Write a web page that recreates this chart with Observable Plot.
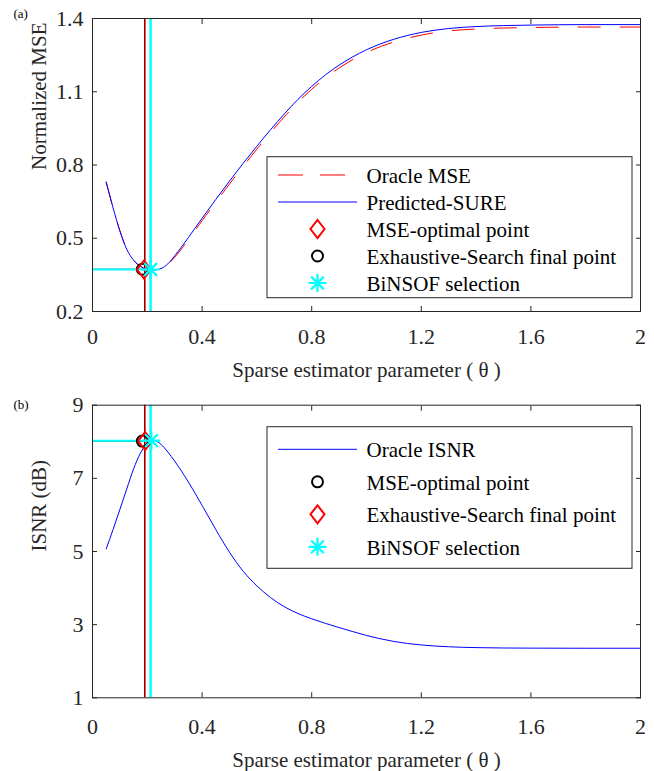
<!DOCTYPE html>
<html><head><meta charset="utf-8">
<script src="https://cdn.jsdelivr.net/npm/d3@7"></script>
<script src="https://cdn.jsdelivr.net/npm/@observablehq/plot@0.6"></script>
<style>
body{margin:0;background:#fff;}
#wrap{position:relative;width:654px;height:771px;font-family:"Liberation Serif",Tinos,"Times New Roman","Nimbus Roman","DejaVu Serif",serif;background:#fff;}
#wrap > svg{position:absolute;left:0;}
#wrap text{font-family:"Liberation Serif",Tinos,"Times New Roman","Nimbus Roman","DejaVu Serif",serif;}
</style></head><body><div id="wrap"></div>
<script>
// ---------- data ----------
const thetaMSE = [0.05,0.075,0.1,0.125,0.15,0.175,0.2,0.225,0.25,0.275,0.3,0.35,0.4,0.45,0.5,0.55,0.6,0.65,0.7,0.75,0.8,0.85,0.9,0.95,1.0,1.1,1.2,1.3,1.4,1.5,1.6,1.8,2.0];
const predictedSURE = [0.73,0.625,0.53,0.455,0.41,0.385,0.373,0.37,0.376,0.395,0.428,0.503,0.582,0.659,0.734,0.807,0.877,0.945,1.009,1.069,1.122,1.169,1.209,1.243,1.272,1.315,1.343,1.359,1.367,1.371,1.373,1.375,1.375];
const oracleMSE = [0.73,0.625,0.53,0.455,0.41,0.385,0.373,0.37,0.376,0.393,0.422,0.494,0.572,0.648,0.722,0.795,0.865,0.933,0.997,1.057,1.11,1.157,1.197,1.232,1.261,1.304,1.332,1.349,1.357,1.361,1.363,1.365,1.365];
const thetaISNR = [0.05,0.075,0.1,0.125,0.15,0.175,0.2,0.225,0.25,0.275,0.3,0.35,0.4,0.45,0.5,0.55,0.6,0.65,0.7,0.75,0.8,0.85,0.9,0.95,1.0,1.05,1.1,1.15,1.2,1.25,1.3,1.4,1.5,1.6,1.8,2.0];
const oracleISNR = [5.07,5.6,6.15,6.71,7.26,7.69,7.95,8.03,7.93,7.72,7.47,6.9,6.26,5.6,4.98,4.46,4.06,3.74,3.49,3.305,3.16,3.035,2.92,2.81,2.705,2.615,2.54,2.485,2.445,2.415,2.395,2.372,2.362,2.358,2.355,2.355];
// selected points
const thetaOpt = 0.192, thetaES = 0.19, thetaBin = 0.212;
const mseOpt = 0.372, mseES = 0.373, mseBin = 0.372;
const isnrOpt = 8.02, isnrES = 8.02, isnrBin = 8.03;
// ticks / domains
const xTicks = [0,0.4,0.8,1.2,1.6,2];
const xDomain = [0,2];
const mseTicks = [0.2,0.5,0.8,1.1,1.4];
const mseDomain = [0.2,1.4];
const isnrTicks = [1,3,5,7,9];
const isnrDomain = [1,9];
const legendTop = ["Oracle MSE","Predicted-SURE","MSE-optimal point","Exhaustive-Search final point","BiNSOF selection"];
const legendBottom = ["Oracle ISNR","MSE-optimal point","Exhaustive-Search final point","BiNSOF selection"];

// ---------- styling ----------
const fontFam = '"Liberation Serif",Tinos,"Times New Roman","Nimbus Roman","DejaVu Serif",serif';
const axisColor = "#262626";
const RED = "#ff0000", BLUE = "#0000ff", CYAN = "#00ffff";

const diamondTall = {draw(ctx, size){const r=Math.sqrt(size/Math.PI);const w=r*0.78;ctx.moveTo(0,-r);ctx.lineTo(w,0);ctx.lineTo(0,r);ctx.lineTo(-w,0);ctx.closePath();}};
const star8 = {draw(ctx, size){const r=Math.sqrt(size/Math.PI);const d=r*Math.SQRT1_2;ctx.moveTo(-r,0);ctx.lineTo(r,0);ctx.moveTo(0,-r);ctx.lineTo(0,r);ctx.moveTo(-d,-d);ctx.lineTo(d,d);ctx.moveTo(-d,d);ctx.lineTo(d,-d);}};

function frameMarks(yTicks, xPad){
  return [
    Plot.axisX(xTicks,{anchor:"bottom",tickSize:-5,tickPadding:5+xPad,tickFormat:d=>String(d),fontSize:22,stroke:axisColor,fill:axisColor,label:null}),
    Plot.axisX(xTicks,{anchor:"top",tickSize:-5,tickFormat:()=>"",stroke:axisColor,label:null}),
    Plot.axisY(yTicks,{anchor:"left",tickSize:-5,tickPadding:14,tickFormat:d=>String(d),fontSize:22,stroke:axisColor,fill:axisColor,label:null}),
    Plot.axisY(yTicks,{anchor:"right",tickSize:-5,tickFormat:()=>"",stroke:axisColor,label:null}),
    Plot.frame({stroke:axisColor,strokeWidth:1})
  ];
}
function italicTheta(svg){
  const t = d3.select(svg).select('g[aria-label="xlabel"] text');
  t.text(null);
  t.append("tspan").text("Sparse estimator parameter ( ");
  t.append("tspan").attr("font-style","italic").text("\u03b8");
  t.append("tspan").text(" )");
}

const msePts = thetaMSE.map((t,i)=>({t, pred:predictedSURE[i], orc:oracleMSE[i]}));
const isnrPts = thetaISNR.map((t,i)=>({t, v:oracleISNR[i]}));

// ---------- panel (a) ----------
const svgA = Plot.plot({
  width:654, height:390, marginTop:18, marginBottom:79, marginLeft:92, marginRight:14,
  style:{fontFamily:fontFam, background:"transparent", color:axisColor, overflow:"visible"},
  x:{domain:xDomain}, y:{domain:mseDomain},
  marks:[
    Plot.line(msePts,{x:"t",y:"orc",stroke:RED,strokeWidth:1,strokeDasharray:"22,20",curve:"monotone-x"}),
    Plot.line(msePts,{x:"t",y:"pred",stroke:BLUE,strokeWidth:1,curve:"monotone-x"}),
    Plot.ruleX([thetaES],{stroke:"black",strokeWidth:1}),
    Plot.ruleX([thetaOpt],{stroke:RED,strokeWidth:1.2}),
    Plot.ruleX([thetaBin],{stroke:CYAN,strokeWidth:2.5}),
    Plot.ruleY([{x:thetaES,y:mseES}],{y:"y",x1:()=>xDomain[0],x2:"x",stroke:"black",strokeWidth:1}),
    Plot.ruleY([{x:thetaOpt,y:mseOpt}],{y:"y",x1:()=>xDomain[0],x2:"x",stroke:RED,strokeWidth:1.2}),
    Plot.ruleY([{x:thetaBin,y:mseBin}],{y:"y",x1:()=>xDomain[0],x2:"x",stroke:CYAN,strokeWidth:2}),
    Plot.dot([{x:thetaES-0.008,y:mseES}],{x:"x",y:"y",symbol:"circle",r:5.5,stroke:"black",strokeWidth:2,fill:"none"}),
    Plot.dot([{x:thetaOpt-0.004,y:mseOpt}],{x:"x",y:"y",symbol:diamondTall,r:9,stroke:RED,strokeWidth:2,fill:"none"}),
    Plot.dot([{x:thetaBin,y:mseBin}],{x:"x",y:"y",symbol:star8,r:9,stroke:CYAN,strokeWidth:2.2,fill:"none"}),
    ...frameMarks(mseTicks, 16.4),
    Plot.text(["Sparse estimator parameter ( \u03b8 )"],{frameAnchor:"bottom",dy:65,lineAnchor:"bottom",fontSize:21,fill:axisColor,ariaLabel:"xlabel"}),
    Plot.text(["Normalized MSE"],{frameAnchor:"left",dx:-47,dy:5,rotate:-90,lineAnchor:"bottom",fontSize:21,fill:axisColor}),
    Plot.text(["(a)"],{frameAnchor:"top-left",dx:-79,dy:-1,lineAnchor:"bottom",textAnchor:"start",fontSize:13,fill:"black"})
  ]
});
svgA.style.top = "0px";
italicTheta(svgA);

// ---------- panel (b) ----------
const svgB = Plot.plot({
  width:654, height:381, marginTop:14.7, marginBottom:73.7, marginLeft:92, marginRight:14,
  style:{fontFamily:fontFam, background:"transparent", color:axisColor, overflow:"visible"},
  x:{domain:xDomain}, y:{domain:isnrDomain},
  marks:[
    Plot.line(isnrPts,{x:"t",y:"v",stroke:BLUE,strokeWidth:1,curve:"monotone-x"}),
    Plot.ruleX([thetaES],{stroke:"black",strokeWidth:1}),
    Plot.ruleX([thetaOpt],{stroke:RED,strokeWidth:1.2}),
    Plot.ruleX([thetaBin],{stroke:CYAN,strokeWidth:2.5}),
    Plot.ruleY([{x:thetaOpt,y:isnrOpt}],{y:"y",x1:()=>xDomain[0],x2:"x",stroke:"black",strokeWidth:1}),
    Plot.ruleY([{x:thetaBin,y:isnrBin}],{y:"y",x1:()=>xDomain[0],x2:"x",stroke:CYAN,strokeWidth:2}),
    Plot.dot([{x:thetaES-0.008,y:isnrOpt}],{x:"x",y:"y",symbol:"circle",r:5.5,stroke:"black",strokeWidth:2,fill:"none"}),
    Plot.dot([{x:thetaOpt,y:isnrES}],{x:"x",y:"y",symbol:diamondTall,r:9,stroke:RED,strokeWidth:2,fill:"none"}),
    Plot.dot([{x:thetaBin+0.003,y:isnrBin}],{x:"x",y:"y",symbol:star8,r:9,stroke:CYAN,strokeWidth:2.2,fill:"none"}),
    ...frameMarks(isnrTicks, 20.1),
    Plot.text(["Sparse estimator parameter ( \u03b8 )"],{frameAnchor:"bottom",dy:68.7,lineAnchor:"bottom",fontSize:21,fill:axisColor,ariaLabel:"xlabel"}),
    Plot.text(["ISNR (dB)"],{frameAnchor:"left",dx:-47,rotate:-90,lineAnchor:"bottom",fontSize:21,fill:axisColor}),
    Plot.text(["(b)"],{frameAnchor:"top-left",dx:-79,dy:3.3,lineAnchor:"bottom",textAnchor:"start",fontSize:13,fill:"black"})
  ]
});
svgB.style.top = "390px";
italicTheta(svgB);

const wrap = document.getElementById("wrap");
wrap.appendChild(svgA);
wrap.appendChild(svgB);

// ---------- legends ----------
function drawLegend(box, rows){
  const s = d3.select(wrap).append("svg")
    .attr("width",654).attr("height",771).style("position","absolute").style("left","0px").style("top","0px");
  s.append("rect").attr("x",box.x0).attr("y",box.y0).attr("width",box.x1-box.x0).attr("height",box.y1-box.y0)
    .attr("fill","white").attr("stroke",axisColor).attr("stroke-width",1);
  rows.forEach((r,i)=>{
    const y = box.first + i*box.step;
    if (r.kind==="dash") s.append("line").attr("x1",278).attr("x2",357).attr("y1",y).attr("y2",y).attr("stroke",RED).attr("stroke-dasharray","25,17");
    else if (r.kind==="line") s.append("line").attr("x1",278).attr("x2",357).attr("y1",y).attr("y2",y).attr("stroke",BLUE);
    else {
      const sym = r.kind==="circle" ? d3.symbolCircle : r.kind==="diamond" ? diamondTall : star8;
      const rr = r.kind==="circle" ? 5.5 : 9;
      const col = r.kind==="circle" ? "black" : r.kind==="diamond" ? RED : CYAN;
      s.append("path").attr("transform",`translate(317.5,${y})`).attr("d",d3.symbol(sym, rr*rr*Math.PI)())
        .attr("fill","none").attr("stroke",col).attr("stroke-width", r.kind==="star"?2.2:2);
    }
    s.append("text").attr("x",366.5).attr("y",y+8).attr("font-size",21).attr("fill","black")
      .style("font-family",fontFam).text(r.label);
  });
}
drawLegend({x0:267,x1:632,y0:156.7,y1:297.7,first:175,step:27},
  [{kind:"dash",label:legendTop[0]},{kind:"line",label:legendTop[1]},{kind:"diamond",label:legendTop[2]},{kind:"circle",label:legendTop[3]},{kind:"star",label:legendTop[4]}]);
drawLegend({x0:267,x1:632,y0:426.7,y1:568.3,first:449.3,step:32.5},
  [{kind:"line",label:legendBottom[0]},{kind:"circle",label:legendBottom[1]},{kind:"diamond",label:legendBottom[2]},{kind:"star",label:legendBottom[3]}]);
</script></body></html>
